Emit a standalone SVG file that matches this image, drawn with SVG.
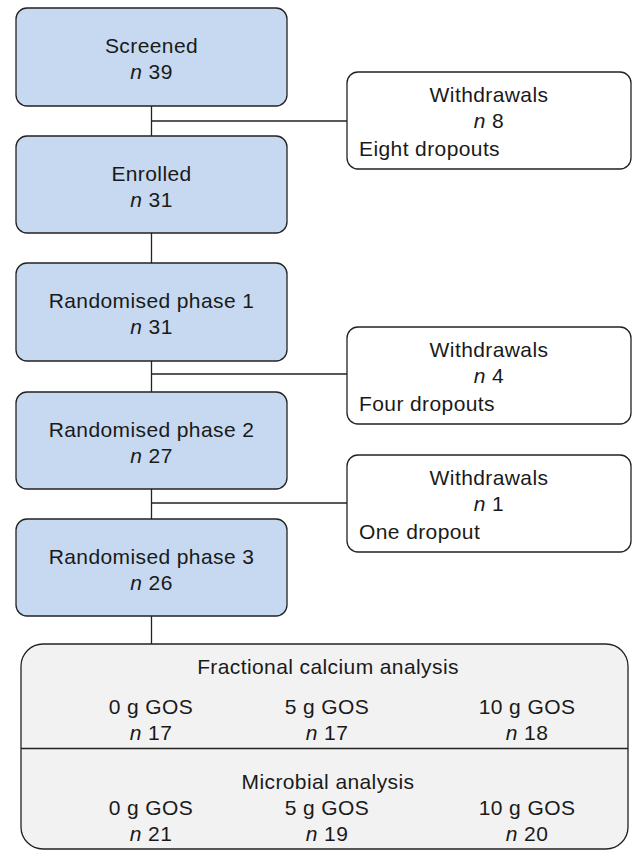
<svg xmlns="http://www.w3.org/2000/svg" width="633" height="851" viewBox="0 0 633 851">
<style>
  text { font-family: "Liberation Sans", Arial, sans-serif; font-size: 21px; fill: #1a1a1a; letter-spacing: 0.4px; }
  .c { text-anchor: middle; }
  .i { font-style: italic; }
  .blue { fill: #c6d9f0; stroke: #222; stroke-width: 1.3; }
  .white { fill: #ffffff; stroke: #222; stroke-width: 1.3; }
  .grey { fill: #f2f2f2; stroke: #222; stroke-width: 1.3; }
  .conn { stroke: #222; stroke-width: 1.3; fill: none; }
</style>
<rect width="633" height="851" fill="#ffffff"/>
<g id="connectors">
  <path class="conn" d="M151.5 106 V136 M151.5 121 H347"/>
  <path class="conn" d="M151.5 233 V263"/>
  <path class="conn" d="M151.5 361 V392 M151.5 374 H347"/>
  <path class="conn" d="M151.5 489 V519 M151.5 503 H347"/>
  <path class="conn" d="M151.5 616 V644"/>
</g>
<g id="screened">
  <rect class="blue" x="16" y="8" width="271" height="98" rx="11"/>
  <text class="c" x="151.5" y="53">Screened</text>
  <text class="c" x="151.5" y="79"><tspan class="i">n</tspan> 39</text>
</g>
<g id="withdrawals1">
  <rect class="white" x="347" y="72" width="284" height="97" rx="11"/>
  <text class="c" x="489" y="102">Withdrawals</text>
  <text class="c" x="489" y="128"><tspan class="i">n</tspan> 8</text>
  <text x="359" y="156">Eight dropouts</text>
</g>
<g id="enrolled">
  <rect class="blue" x="16" y="136" width="271" height="97" rx="11"/>
  <text class="c" x="151.5" y="181">Enrolled</text>
  <text class="c" x="151.5" y="207"><tspan class="i">n</tspan> 31</text>
</g>
<g id="phase1">
  <rect class="blue" x="16" y="263" width="271" height="98" rx="11"/>
  <text class="c" x="151.5" y="308">Randomised phase 1</text>
  <text class="c" x="151.5" y="334"><tspan class="i">n</tspan> 31</text>
</g>
<g id="withdrawals2">
  <rect class="white" x="347" y="327" width="284" height="97" rx="11"/>
  <text class="c" x="489" y="357">Withdrawals</text>
  <text class="c" x="489" y="383"><tspan class="i">n</tspan> 4</text>
  <text x="359" y="411">Four dropouts</text>
</g>
<g id="phase2">
  <rect class="blue" x="16" y="392" width="271" height="97" rx="11"/>
  <text class="c" x="151.5" y="437">Randomised phase 2</text>
  <text class="c" x="151.5" y="463"><tspan class="i">n</tspan> 27</text>
</g>
<g id="withdrawals3">
  <rect class="white" x="347" y="455" width="284" height="97" rx="11"/>
  <text class="c" x="489" y="485">Withdrawals</text>
  <text class="c" x="489" y="511"><tspan class="i">n</tspan> 1</text>
  <text x="359" y="539">One dropout</text>
</g>
<g id="phase3">
  <rect class="blue" x="16" y="519" width="271" height="97" rx="11"/>
  <text class="c" x="151.5" y="564">Randomised phase 3</text>
  <text class="c" x="151.5" y="590"><tspan class="i">n</tspan> 26</text>
</g>
<g id="analysis">
  <rect class="grey" x="21" y="644" width="607" height="205" rx="22"/>
  <line class="conn" x1="21" y1="748.5" x2="628" y2="748.5"/>
  <text class="c" x="328" y="674">Fractional calcium analysis</text>
  <text class="c" x="151" y="714">0 g GOS</text>
  <text class="c" x="151" y="740"><tspan class="i">n</tspan> 17</text>
  <text class="c" x="327" y="714">5 g GOS</text>
  <text class="c" x="327" y="740"><tspan class="i">n</tspan> 17</text>
  <text class="c" x="527" y="714">10 g GOS</text>
  <text class="c" x="527" y="740"><tspan class="i">n</tspan> 18</text>
  <text class="c" x="328" y="789">Microbial analysis</text>
  <text class="c" x="151" y="815">0 g GOS</text>
  <text class="c" x="151" y="841"><tspan class="i">n</tspan> 21</text>
  <text class="c" x="327" y="815">5 g GOS</text>
  <text class="c" x="327" y="841"><tspan class="i">n</tspan> 19</text>
  <text class="c" x="527" y="815">10 g GOS</text>
  <text class="c" x="527" y="841"><tspan class="i">n</tspan> 20</text>
</g>
</svg>
